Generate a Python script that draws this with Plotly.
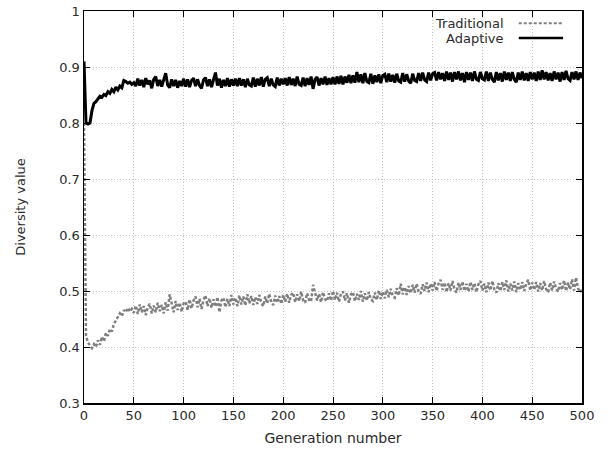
import plotly.graph_objects as go

generations = list(range(0, 501, 2))

adaptive = [
    0.910, 0.800, 0.798, 0.800, 0.822, 0.835, 0.838, 0.843, 0.848, 0.846,
    0.851, 0.849, 0.856, 0.853, 0.860, 0.856, 0.864, 0.859, 0.866, 0.863,
    0.876, 0.874, 0.871, 0.873, 0.869, 0.872,
    0.866, 0.879, 0.867, 0.877, 0.864, 0.880, 0.869, 0.876, 0.862, 0.878,
    0.883, 0.866, 0.877, 0.865, 0.879, 0.889, 0.868, 0.863, 0.878, 0.866,
    0.877, 0.863, 0.875, 0.866, 0.879,
    0.865, 0.878, 0.864, 0.876, 0.880, 0.866, 0.878, 0.867, 0.862, 0.877,
    0.881, 0.866, 0.878, 0.864, 0.876, 0.890, 0.867, 0.879, 0.863, 0.877,
    0.866, 0.880, 0.865, 0.878, 0.867,
    0.879, 0.866, 0.880, 0.867, 0.878, 0.864, 0.879, 0.868, 0.866, 0.881,
    0.865, 0.879, 0.867, 0.882, 0.865, 0.878, 0.881, 0.866, 0.879, 0.868,
    0.865, 0.881, 0.867, 0.879, 0.869,
    0.880, 0.867, 0.882, 0.868, 0.879, 0.866, 0.883, 0.869, 0.867, 0.881,
    0.866, 0.880, 0.868, 0.883, 0.861, 0.878, 0.882, 0.867, 0.880, 0.869,
    0.883, 0.868, 0.880, 0.869, 0.882,
    0.869, 0.883, 0.870, 0.884, 0.869, 0.883, 0.872, 0.886, 0.871, 0.885,
    0.872, 0.891, 0.873, 0.887, 0.871, 0.889, 0.874, 0.872, 0.888, 0.870,
    0.885, 0.873, 0.887, 0.871, 0.885,
    0.887, 0.873, 0.888, 0.874, 0.886, 0.872, 0.888, 0.875, 0.873, 0.889,
    0.874, 0.887, 0.875, 0.871, 0.888, 0.876, 0.874, 0.889, 0.875, 0.890,
    0.877, 0.874, 0.890, 0.876, 0.888,
    0.890, 0.876, 0.891, 0.878, 0.889, 0.875, 0.892, 0.877, 0.890, 0.874,
    0.891, 0.878, 0.892, 0.876, 0.889, 0.873, 0.891, 0.877, 0.890, 0.875,
    0.892, 0.878, 0.876, 0.891, 0.879,
    0.877, 0.892, 0.875, 0.890, 0.878, 0.873, 0.891, 0.876, 0.889, 0.874,
    0.892, 0.877, 0.890, 0.875, 0.891, 0.878, 0.873, 0.890, 0.877, 0.892,
    0.876, 0.889, 0.875, 0.891, 0.878,
    0.890, 0.875, 0.892, 0.877, 0.894, 0.878, 0.891, 0.876, 0.889, 0.875,
    0.892, 0.878, 0.890, 0.874, 0.891, 0.877, 0.893, 0.879, 0.876, 0.891,
    0.878, 0.892, 0.877, 0.890, 0.880,
]

traditional = [
    0.800, 0.420, 0.408, 0.402, 0.398, 0.405, 0.400, 0.412, 0.404, 0.418,
    0.410, 0.425, 0.420, 0.432, 0.428, 0.441, 0.447, 0.452, 0.460, 0.455,
    0.466, 0.462, 0.470, 0.463, 0.468, 0.461,
    0.474, 0.459, 0.476, 0.462, 0.473, 0.457, 0.471, 0.477, 0.460, 0.474,
    0.462, 0.479, 0.464, 0.475, 0.460, 0.480, 0.465, 0.494, 0.477, 0.462,
    0.482, 0.466, 0.479, 0.463, 0.478,
    0.481, 0.466, 0.485, 0.469, 0.483, 0.490, 0.471, 0.486, 0.468, 0.484,
    0.492, 0.473, 0.487, 0.470, 0.485, 0.472, 0.489, 0.462, 0.483, 0.488,
    0.471, 0.486, 0.473, 0.493, 0.476,
    0.488, 0.473, 0.492, 0.476, 0.490, 0.474, 0.494, 0.478, 0.491, 0.475,
    0.489, 0.477, 0.493, 0.479, 0.473, 0.490, 0.478, 0.495, 0.480, 0.475,
    0.492, 0.479, 0.491, 0.477, 0.493,
    0.481, 0.495, 0.479, 0.493, 0.497, 0.480, 0.494, 0.482, 0.499, 0.483,
    0.479, 0.496, 0.484, 0.481, 0.511, 0.497, 0.483, 0.495, 0.480, 0.498,
    0.485, 0.482, 0.496, 0.483, 0.500,
    0.484, 0.497, 0.481, 0.495, 0.499, 0.483, 0.496, 0.479, 0.494, 0.498,
    0.482, 0.495, 0.484, 0.500, 0.481, 0.496, 0.483, 0.498, 0.485, 0.482,
    0.497, 0.484, 0.501, 0.486, 0.499,
    0.487, 0.502, 0.489, 0.504, 0.491, 0.488, 0.505, 0.492, 0.513, 0.494,
    0.507, 0.493, 0.509, 0.496, 0.511, 0.497, 0.513, 0.499, 0.495, 0.512,
    0.500, 0.515, 0.498, 0.513, 0.501,
    0.516, 0.500, 0.513, 0.520, 0.502, 0.515, 0.498, 0.514, 0.501, 0.518,
    0.503, 0.497, 0.515, 0.502, 0.517, 0.500, 0.513, 0.499, 0.516, 0.502,
    0.514, 0.498, 0.512, 0.518, 0.501,
    0.513, 0.498, 0.515, 0.501, 0.518, 0.503, 0.497, 0.514, 0.500, 0.516,
    0.502, 0.519, 0.499, 0.513, 0.501, 0.517, 0.498, 0.514, 0.502, 0.516,
    0.500, 0.513, 0.520, 0.501, 0.515,
    0.502, 0.516, 0.499, 0.514, 0.501, 0.518, 0.503, 0.498, 0.515, 0.501,
    0.517, 0.504, 0.499, 0.514, 0.502, 0.519, 0.500, 0.515, 0.503, 0.521,
    0.501, 0.524, 0.505, 0.498, 0.502,
]

x_ticks = [0, 50, 100, 150, 200, 250, 300, 350, 400, 450, 500]
y_ticks = [0.3, 0.4, 0.5, 0.6, 0.7, 0.8, 0.9, 1.0]
y_tick_text = ["0.3", "0.4", "0.5", "0.6", "0.7", "0.8", "0.9", "1"]

FONT = "DejaVu Sans"
TXT = "#2a2a2a"
TRAD_COLOR = "#808080"
TRAD_DASH = "3px,2px"

fig = go.Figure()
fig.add_trace(go.Scatter(
    x=generations, y=traditional, mode="lines", name="Traditional",
    line=dict(color=TRAD_COLOR, width=2.5, dash=TRAD_DASH),
))
fig.add_trace(go.Scatter(
    x=generations, y=adaptive, mode="lines", name="Adaptive",
    line=dict(color="black", width=3),
))

axis_common = dict(
    showline=True, linecolor="black", linewidth=1.5, mirror="ticks",
    ticks="inside", ticklen=6, tickwidth=1, tickcolor="black",
    showgrid=True, gridcolor="#c4c4c4", griddash="1px,2px", gridwidth=1,
    zeroline=False, automargin=False, ticklabeloverflow="allow",
    tickfont=dict(family=FONT, size=13, color=TXT),
)

fig.update_xaxes(range=[0, 500], tickvals=x_ticks,
                 title=dict(text="Generation number", font=dict(family=FONT, size=14, color=TXT), standoff=11),
                 **axis_common)
fig.update_yaxes(range=[0.3, 1.0], tickvals=y_ticks, ticktext=y_tick_text,
                 title=dict(text="Diversity value", font=dict(family=FONT, size=13, color=TXT), standoff=30),
                 **axis_common)

# gnuplot-style legend: text right-aligned, sample to the right
legend_items = [("Traditional", TRAD_COLOR, TRAD_DASH, 2, 0.969), ("Adaptive", "black", "solid", 2.5, 0.931)]
for label, color, dash, w, ypos in legend_items:
    fig.add_annotation(x=0.847, y=ypos, xref="paper", yref="paper", text=label,
                       showarrow=False, xanchor="right", yanchor="middle",
                       font=dict(family=FONT, size=13, color=TXT))
    fig.add_shape(type="line", xref="paper", yref="paper",
                  x0=0.873, x1=0.962, y0=ypos, y1=ypos,
                  line=dict(color=color, width=w, dash=dash))

fig.update_layout(
    width=608, height=450,
    margin=dict(l=84, r=26, t=11, b=47),
    paper_bgcolor="white", plot_bgcolor="white",
    showlegend=False, hovermode=False,
    font=dict(family=FONT, size=13, color=TXT),
)

fig.write_html("out.html",
               config={"displayModeBar": False, "staticPlot": True},
               post_script="document.body.style.margin='0';document.body.style.overflow='hidden';")
